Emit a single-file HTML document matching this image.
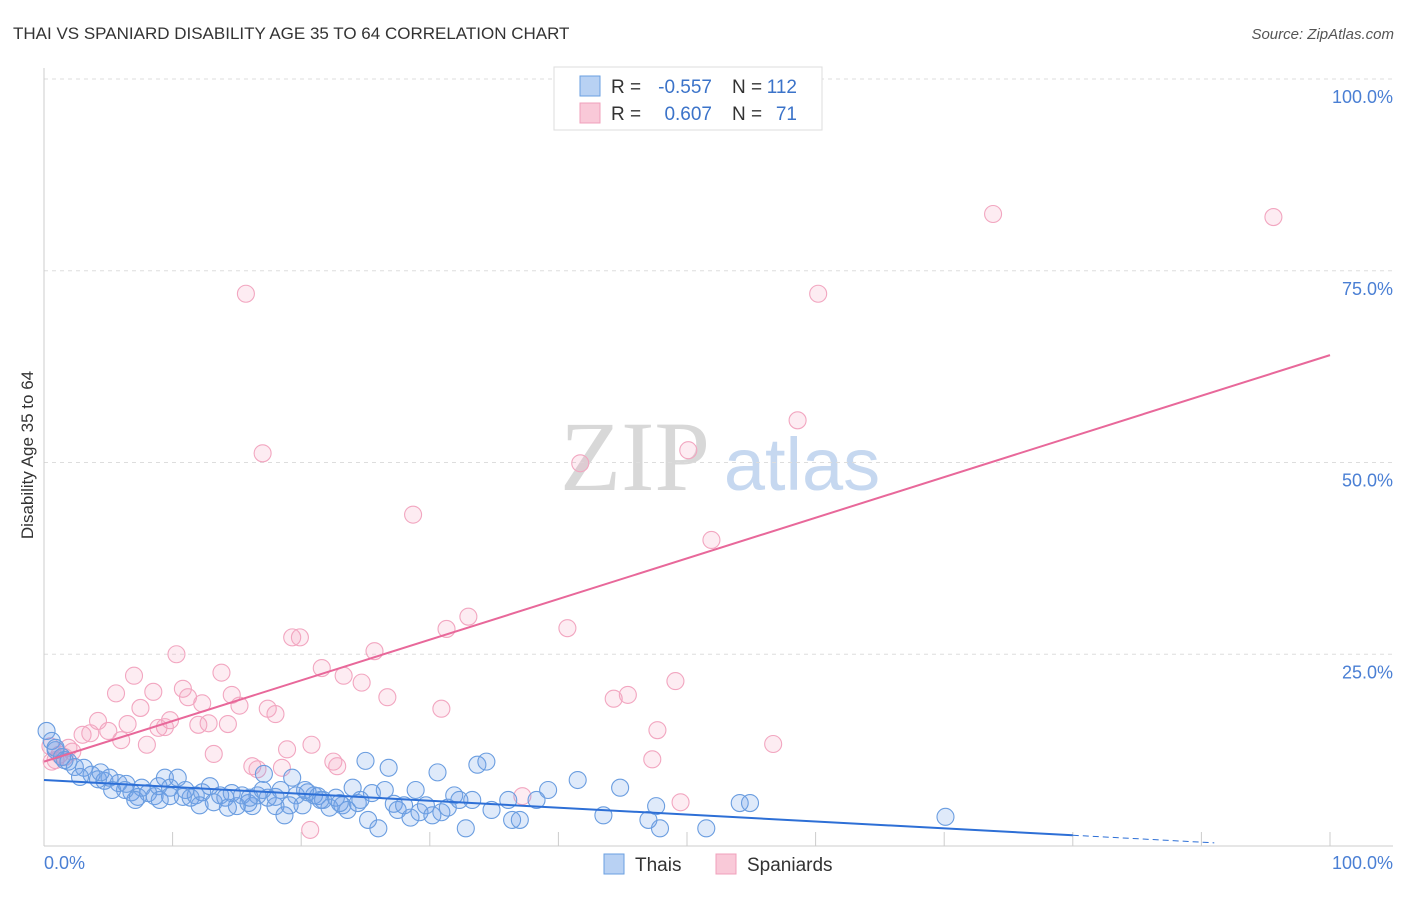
<!DOCTYPE html>
<html><head><meta charset="utf-8"><style>
body{margin:0;background:#fff;font-family:"Liberation Sans",sans-serif;}
svg text{font-family:"Liberation Sans",sans-serif;}
</style></head><body>
<svg id="chart" width="1406" height="892">
<text x="13" y="39" font-size="17" fill="#333">THAI VS SPANIARD DISABILITY AGE 35 TO 64 CORRELATION CHART</text>
<text x="1394" y="39" font-size="15" fill="#555" font-style="italic" text-anchor="end">Source: ZipAtlas.com</text>
<text transform="translate(33,455) rotate(-90)" font-size="17" fill="#333" text-anchor="middle">Disability Age 35 to 64</text>
<g>
<text x="635" y="490" font-size="100" fill="#d8d8d8" style="font-family:'Liberation Serif',serif" text-anchor="middle">ZIP</text>
<text x="802" y="490" font-size="74" fill="#c6d8f0" text-anchor="middle">atlas</text>
</g>
<g id="grid"></g><g id="ticks"></g><g id="pts"></g><g id="trends"></g>
<g>
<rect x="554" y="67" width="268" height="63" fill="#fff" stroke="#ddd"/>
<rect x="580" y="76" width="20" height="20" fill="#b8d1f3" stroke="#6a9fe0"/>
<rect x="580" y="103" width="20" height="20" fill="#f9c9d8" stroke="#f0a0bb"/>
<text x="611" y="93" font-size="19" fill="#333">R =</text>
<text x="712" y="93" font-size="19" fill="#3b73c9" text-anchor="end">-0.557</text>
<text x="732" y="93" font-size="19" fill="#333">N =</text>
<text x="797" y="93" font-size="19" fill="#3b73c9" text-anchor="end">112</text>
<text x="611" y="120" font-size="19" fill="#333">R =</text>
<text x="712" y="120" font-size="19" fill="#3b73c9" text-anchor="end">0.607</text>
<text x="732" y="120" font-size="19" fill="#333">N =</text>
<text x="797" y="120" font-size="19" fill="#3b73c9" text-anchor="end">71</text>
</g>
<g>
<rect x="604" y="854" width="20" height="20" fill="#b8d1f3" stroke="#6a9fe0"/>
<text x="635" y="871" font-size="19" fill="#333">Thais</text>
<rect x="716" y="854" width="20" height="20" fill="#f9c9d8" stroke="#f0a0bb"/>
<text x="747" y="871" font-size="19" fill="#333">Spaniards</text>
</g>
</svg>
<script>
const yTicks=[25,50,75,100];
const yTickLabels=["25.0%","50.0%","75.0%","100.0%"];
const xTicks=[0,10,20,30,40,50,60,70,80,90,100];
const thaiX=[0.2,0.6,0.9,1.4,1.9,2.4,3.1,3.7,4.2,4.7,5.1,5.8,6.3,6.8,7.3,7.6,8.1,8.6,8.9,9.4,9.8,10.4,10.8,11.4,11.8,12.3,12.9,13.2,13.7,14.1,14.6,15.0,15.4,15.9,16.2,16.6,17.1,17.4,18.0,18.4,18.7,19.3,19.6,20.1,20.5,21.0,21.3,21.7,22.2,22.7,23.2,23.6,24.0,24.4,25.0,25.2,25.5,26.0,26.5,26.8,27.2,27.5,28.0,28.5,28.9,29.2,29.7,30.2,30.6,30.9,31.4,31.9,32.3,32.8,33.3,33.7,34.4,34.8,36.1,36.4,37.0,38.3,39.2,41.5,43.5,44.8,47.0,47.6,47.9,51.5,54.1,54.9,70.1,0.9,1.6,2.8,4.4,5.3,6.4,7.1,9.0,9.8,11.0,12.1,14.3,16.0,17.0,18.0,19.1,20.3,21.5,23.0,24.6];
const thaiY=[15.0,13.7,12.5,11.6,11.0,10.3,10.2,9.3,8.7,8.5,8.9,8.2,7.3,7.0,6.4,7.6,6.9,6.5,7.8,8.9,7.6,8.9,6.4,6.3,6.6,7.0,7.8,5.7,6.6,6.3,6.9,5.2,6.6,5.6,5.2,6.6,9.4,6.3,5.2,7.3,4.0,8.9,6.6,5.3,7.0,6.6,6.5,6.0,5.0,6.3,5.3,4.7,7.6,5.6,11.1,3.4,6.9,2.3,7.3,10.2,5.5,4.7,5.3,3.7,7.3,4.4,5.3,4.0,9.6,4.4,5.0,6.6,6.0,2.3,6.0,10.6,11.0,4.7,6.0,3.4,3.4,6.0,7.3,8.6,4.0,7.6,3.4,5.2,2.3,2.3,5.6,5.6,3.8,12.8,11.2,9.0,9.6,7.3,8.1,6.0,6.0,6.5,7.3,5.3,5.0,6.3,7.3,6.4,5.3,7.3,6.0,5.6,6.0];
const spanX=[15.7,73.8,95.6,60.2,17.0,41.7,50.1,58.6,28.7,51.9,33.0,31.3,40.7,19.3,19.9,10.3,25.7,21.6,7.0,13.8,23.3,24.7,5.6,8.5,10.8,11.2,14.6,12.3,26.7,44.3,45.4,49.1,15.2,17.4,18.0,30.9,7.5,4.2,9.8,12.8,14.3,12.0,6.5,8.9,9.4,5.0,3.0,3.6,6.0,8.0,47.7,56.7,13.2,18.9,20.8,16.2,16.6,18.5,22.5,22.8,47.3,2.2,1.6,0.9,0.6,1.2,49.5,37.2,20.7,1.9,0.5];
const spanY=[72.0,82.4,82.0,72.0,51.2,49.9,51.6,55.5,43.2,39.9,29.9,28.3,28.4,27.2,27.2,25.0,25.4,23.2,22.2,22.6,22.2,21.3,19.9,20.1,20.5,19.4,19.7,18.6,19.4,19.2,19.7,21.5,18.3,17.9,17.2,17.9,18.0,16.3,16.4,16.0,15.9,15.8,15.9,15.4,15.5,15.0,14.5,14.7,13.8,13.2,15.1,13.3,12.0,12.6,13.2,10.4,10.0,10.2,11.0,10.4,11.3,12.3,11.6,11.2,11.0,11.9,5.7,6.5,2.1,12.8,13.0];
const thaiTrend=[8.6,-0.09];
const spanTrend=[11.0,0.53];
const NS="http://www.w3.org/2000/svg";
const X0=44,X1=1330,Y0=846,Y1=79;
const sx=v=>X0+(X1-X0)*v/100, sy=v=>Y0-(Y0-Y1)*v/100;
function mk(t,a,p){const e=document.createElementNS(NS,t);for(const k in a)e.setAttribute(k,a[k]);p.appendChild(e);return e;}
const grid=document.getElementById('grid'),ticks=document.getElementById('ticks');
yTicks.forEach((v,i)=>{
 const l=mk('line',{x1:X0,x2:1393,y1:sy(v),y2:sy(v),stroke:'#ddd','stroke-dasharray':'4,4'},grid);
 
 
 const t=mk('text',{x:1393,y:sy(v)+24,'font-size':18,fill:'#4a7fd4','text-anchor':'end'},ticks);
 t.textContent=yTickLabels[i];
 
 
});
const ax=mk('line',{x1:X0,x2:X0,y1:68,y2:Y0,stroke:'#ccc'},ticks);


const bx=mk('line',{x1:X0,x2:1393,y1:Y0,y2:Y0,stroke:'#ccc'},ticks);


xTicks.forEach(v=>{const l=mk('line',{x1:sx(v),x2:sx(v),y1:Y0-14,y2:Y0,stroke:'#ccc'},ticks);
 
 });
const xl=mk('text',{x:44,y:869,'font-size':18,fill:'#4a7fd4'},ticks);xl.textContent='0.0%';


const xr=mk('text',{x:1393,y:869,'font-size':18,fill:'#4a7fd4','text-anchor':'end'},ticks);xr.textContent='100.0%';


const pts=document.getElementById('pts');
spanX.forEach((x,i)=>{const c=mk('circle',{cx:sx(x),cy:sy(spanY[i]),r:8.5,fill:'rgba(243,160,190,0.2)',stroke:'#f2a6c0','stroke-width':1.1},pts);
 
 });
thaiX.forEach((x,i)=>{const c=mk('circle',{cx:sx(x),cy:sy(thaiY[i]),r:8.5,fill:'rgba(110,160,230,0.22)',stroke:'#6a9de0','stroke-width':1.1},pts);
 
 });
const tr=document.getElementById('trends');
const f=(t,x)=>t[0]+t[1]*x;
const b1=mk('line',{x1:sx(0),y1:sy(f(thaiTrend,0)),x2:sx(80),y2:sy(f(thaiTrend,80)),stroke:'#2d6fd6','stroke-width':2},tr);


const b2=mk('line',{x1:sx(80),y1:sy(f(thaiTrend,80)),x2:sx(91),y2:sy(f(thaiTrend,91)),stroke:'#2d6fd6','stroke-width':1,'stroke-dasharray':'6,4'},tr);


const p1=mk('line',{x1:sx(0),y1:sy(f(spanTrend,0)),x2:sx(100),y2:sy(f(spanTrend,100)),stroke:'#e8689a','stroke-width':2},tr);


</script>
</body></html>
